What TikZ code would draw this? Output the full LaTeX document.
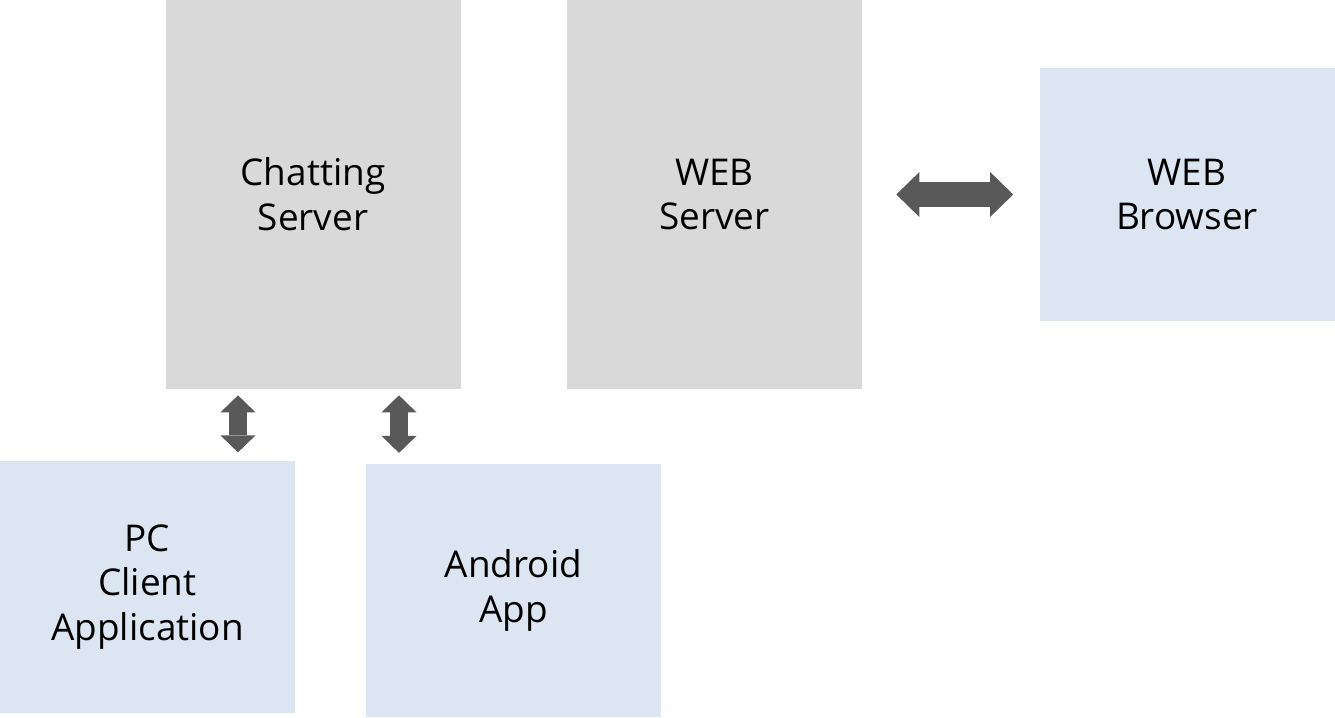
\documentclass[tikz,border=0pt]{standalone}
\usepackage{fontspec}
\setmainfont{Open Sans}
\usepackage{tikz}
\usetikzlibrary{arrows.meta}
\usepackage{xcolor}
\definecolor{srvgray}{HTML}{D9D9D9}
\definecolor{cltblue}{HTML}{DCE6F2}
\definecolor{arrgray}{HTML}{595959}

\begin{document}
\begin{tikzpicture}
  [box/.style={minimum width=5.9cm, align=center, inner sep=0pt,
     font=\fontsize{21}{25.5}\selectfont},
   server/.style={box, fill=srvgray, minimum height=7.78cm},
   client/.style={box, fill=cltblue, minimum height=5.05cm},
   link/.style={line width=0.36cm, color=arrgray,
     {Triangle[length=0.34cm, width=0.7cm, line width=0pt]}-{Triangle[length=0.34cm, width=0.7cm, line width=0pt]}},
   widelink/.style={line width=0.5cm, color=arrgray,
     {Triangle[length=0.46cm, width=0.9cm, line width=0pt]}-{Triangle[length=0.46cm, width=0.9cm, line width=0pt]}},
  ]
  \useasboundingbox (0,0) rectangle (26.7,-14.36);

  \node[server] (chat) at (6.26,-3.89) {Chatting\\Server};
  \node[server] (web) at (14.29,-3.89) {WEB\\Server};
  \node[client] (browser) at (23.74,-3.89) {WEB\\Browser};

  \node[client] (pc) at (2.95,-11.74) {PC\\Client\\Application};
  \node[client] (android) at (10.27,-11.81) {Android\\App};

  \coordinate (x1) at (4.76,0);
  \coordinate (x2) at (7.98,0);

  \draw[link, shorten <=0.12cm, shorten >=0.16cm] (chat.south -| x1) -- (pc.north -| x1);
  \draw[link, shorten <=0.12cm, shorten >=0.22cm] (chat.south -| x2) -- (android.north -| x2);
  \draw[widelink, shorten <=0.68cm, shorten >=0.52cm] (web.east) -- (browser.west);

\end{tikzpicture}
\end{document}
